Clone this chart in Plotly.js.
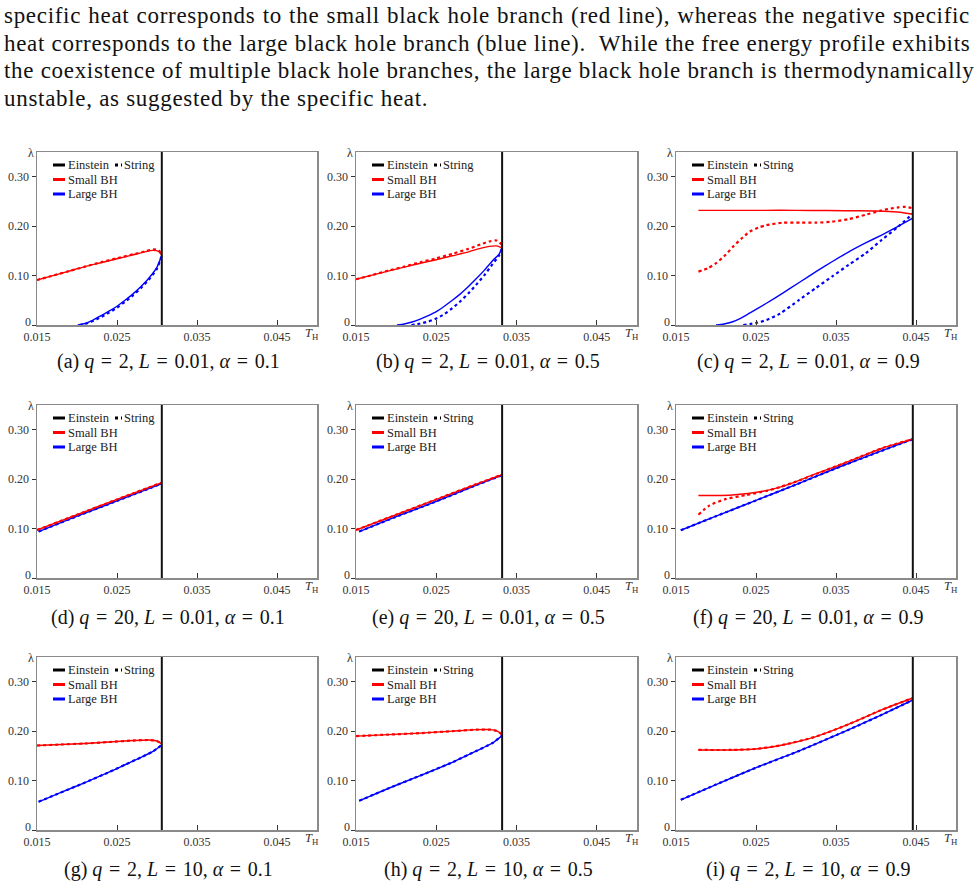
<!DOCTYPE html>
<html><head><meta charset="utf-8">
<script src="https://cdn.plot.ly/plotly-3.0.1.min.js"></script>
<style>
html,body{margin:0;padding:0;background:#fff;}
#wrap{position:relative;width:976px;height:886px;overflow:hidden;background:#fff;}
#chart{position:absolute;left:0;top:0;width:976px;height:886px;}
#para{position:absolute;left:4px;top:2px;width:966px;font-size:23px;line-height:27.5px;color:#111;letter-spacing:0.7px;z-index:5;}
#para div{white-space:nowrap;text-align:justify;text-align-last:justify;}
#para div.last{text-align-last:left;}
</style></head>
<body>
<div id="wrap">
<div id="chart"></div>
<div id="para" style="font-family:'Liberation Serif','Times New Roman','DejaVu Serif',serif;">
<div>specific heat corresponds to the small black hole branch (red line), whereas the negative specific</div>
<div>heat corresponds to the large black hole branch (blue line). &nbsp;While the free energy profile exhibits</div>
<div>the coexistence of multiple black hole branches, the large black hole branch is thermodynamically</div>
<div class="last">unstable, as suggested by the specific heat.</div>
</div>
</div>
<script>
// ---------- axes / labels ----------
const tickX = [0.015, 0.025, 0.035, 0.045];
const tickXText = ['0.015', '0.025', '0.035', '0.045'];
const tickY = [0, 0.1, 0.2, 0.3];
const tickYText = ['', '0.10', '0.20', '0.30'];
const zeroLabel = '0';
const xRange = [0.015, 0.05];
const yRange = [0, 0.35];
const panelTags = ['(a)', '(b)', '(c)', '(d)', '(e)', '(f)', '(g)', '(h)', '(i)'];
const qVals = ['2', '2', '2', '20', '20', '20', '2', '2', '2'];
const LVals = ['0.01', '0.01', '0.01', '0.01', '0.01', '0.01', '10', '10', '10'];
const alphaVals = ['0.1', '0.5', '0.9', '0.1', '0.5', '0.9', '0.1', '0.5', '0.9'];
const legendNames = ['Einstein', 'String', 'Small BH', 'Large BH'];
// maximal temperature (vertical line) for each panel
const tMax = [0.0306, 0.0332, 0.0446, 0.0306, 0.0332, 0.0446, 0.0306, 0.0332, 0.0446];
const lambdaSpan = [0, 0.35];

// ---------- panel (a) ----------
const aSmallEinT = [0.015, 0.017, 0.019, 0.021, 0.023, 0.025, 0.027, 0.0285, 0.0295, 0.0302, 0.0306];
const aSmallEinL = [0.091, 0.100, 0.109, 0.118, 0.126, 0.134, 0.142, 0.148, 0.151, 0.149, 0.141];
const aSmallStrT = [0.015, 0.017, 0.019, 0.021, 0.023, 0.025, 0.027, 0.0285, 0.0295, 0.0302, 0.0306];
const aSmallStrL = [0.091, 0.100, 0.109, 0.118, 0.127, 0.135, 0.143, 0.149, 0.153, 0.151, 0.142];
const aLargeEinT = [0.0201, 0.021, 0.022, 0.023, 0.024, 0.025, 0.026, 0.027, 0.028, 0.029, 0.030, 0.0306];
const aLargeEinL = [0, 0.003, 0.010, 0.019, 0.028, 0.038, 0.050, 0.063, 0.078, 0.095, 0.117, 0.141];
const aLargeStrT = [0.0203, 0.021, 0.022, 0.023, 0.024, 0.025, 0.026, 0.027, 0.028, 0.029, 0.030, 0.0306];
const aLargeStrL = [0, 0.002, 0.008, 0.016, 0.025, 0.035, 0.047, 0.060, 0.075, 0.092, 0.114, 0.141];

// ---------- panel (b) ----------
const bSmallEinT = [0.015, 0.017, 0.019, 0.021, 0.023, 0.025, 0.027, 0.029, 0.0305, 0.0316, 0.0325, 0.0332];
const bSmallEinL = [0.0925, 0.101, 0.109, 0.117, 0.125, 0.132, 0.140, 0.148, 0.155, 0.159, 0.160, 0.156];
const bSmallStrT = [0.015, 0.017, 0.019, 0.021, 0.023, 0.025, 0.027, 0.029, 0.0305, 0.0316, 0.0325, 0.0332];
const bSmallStrL = [0.0925, 0.101, 0.110, 0.118, 0.127, 0.135, 0.144, 0.154, 0.163, 0.169, 0.171, 0.162];
const bLargeEinT = [0.0201, 0.021, 0.022, 0.023, 0.024, 0.025, 0.026, 0.027, 0.028, 0.029, 0.030, 0.031, 0.032, 0.0328, 0.0332];
const bLargeEinL = [0, 0.002, 0.006, 0.012, 0.019, 0.027, 0.038, 0.050, 0.063, 0.078, 0.094, 0.111, 0.130, 0.143, 0.156];
const bLargeStrT = [0.0219, 0.023, 0.024, 0.025, 0.026, 0.027, 0.028, 0.029, 0.030, 0.031, 0.032, 0.0328, 0.0332];
const bLargeStrL = [0, 0.003, 0.007, 0.013, 0.022, 0.034, 0.048, 0.064, 0.082, 0.101, 0.123, 0.140, 0.156];

// ---------- panel (c) ----------
const cSmallEinT = [0.0178, 0.022, 0.026, 0.030, 0.034, 0.038, 0.041, 0.043, 0.0446];
const cSmallEinL = [0.232, 0.232, 0.232, 0.232, 0.2315, 0.231, 0.230, 0.228, 0.224];
const cSmallStrT = [0.0178, 0.0190, 0.0200, 0.0212, 0.0221, 0.0232, 0.0242, 0.0253, 0.0263, 0.0283, 0.0305, 0.0325, 0.0345, 0.0365, 0.0387, 0.0405, 0.0416, 0.0428, 0.0437, 0.0446];
const cSmallStrL = [0.108, 0.115, 0.125, 0.142, 0.158, 0.175, 0.189, 0.197, 0.202, 0.207, 0.207, 0.207, 0.209, 0.214, 0.223, 0.231, 0.235, 0.238, 0.239, 0.236];
const cLargeEinT = [0.0200, 0.021, 0.022, 0.023, 0.0242, 0.0262, 0.0283, 0.0304, 0.0325, 0.0345, 0.0366, 0.0387, 0.0407, 0.0427, 0.0446];
const cLargeEinL = [0, 0.002, 0.006, 0.013, 0.024, 0.043, 0.064, 0.086, 0.108, 0.128, 0.148, 0.166, 0.182, 0.199, 0.216];
const cLargeStrT = [0.0234, 0.025, 0.0263, 0.028, 0.0304, 0.0325, 0.0345, 0.0366, 0.0387, 0.0407, 0.0427, 0.0446];
const cLargeStrL = [0, 0.004, 0.010, 0.023, 0.051, 0.075, 0.098, 0.122, 0.145, 0.172, 0.198, 0.225];

// ---------- panel (d) ----------
const dSmallT = [0.015, 0.020, 0.025, 0.0306];
const dSmallL = [0.097, 0.128, 0.159, 0.193];
const dLargeT = [0.0152, 0.020, 0.025, 0.0306];
const dLargeL = [0.094, 0.125, 0.156, 0.191];

// ---------- panel (e) ----------
const eSmallT = [0.015, 0.020, 0.025, 0.030, 0.0332];
const eSmallL = [0.097, 0.128, 0.159, 0.190, 0.209];
const eLargeT = [0.0154, 0.020, 0.025, 0.030, 0.0332];
const eLargeL = [0.094, 0.124, 0.155, 0.188, 0.208];

// ---------- panel (f) ----------
const fLargeT = [0.0156, 0.020, 0.025, 0.030, 0.035, 0.040, 0.0446];
const fLargeL = [0.0966, 0.125, 0.157, 0.189, 0.222, 0.253, 0.281];
const fSmallEinT = [0.0178, 0.020, 0.022, 0.024, 0.026, 0.028, 0.030, 0.032, 0.035, 0.038, 0.041, 0.0446];
const fSmallEinL = [0.167, 0.167, 0.168, 0.171, 0.176, 0.184, 0.195, 0.208, 0.226, 0.245, 0.264, 0.281];
const fSmallStrT = [0.0178, 0.0192, 0.0213, 0.0238, 0.0263, 0.028, 0.030, 0.032, 0.035, 0.038, 0.041, 0.0446];
const fSmallStrL = [0.128, 0.147, 0.160, 0.168, 0.176, 0.184, 0.195, 0.207, 0.226, 0.245, 0.264, 0.281];

// ---------- panel (g) ----------
const gSmallT = [0.015, 0.018, 0.021, 0.024, 0.027, 0.029, 0.030, 0.0306];
const gSmallL = [0.171, 0.173, 0.175, 0.178, 0.181, 0.182, 0.180, 0.174];
const gLargeT = [0.0152, 0.018, 0.021, 0.024, 0.026, 0.028, 0.0295, 0.0306];
const gLargeL = [0.057, 0.076, 0.096, 0.117, 0.132, 0.147, 0.159, 0.172];

// ---------- panel (h) ----------
const hSmallT = [0.015, 0.019, 0.023, 0.027, 0.030, 0.0318, 0.0326, 0.0332];
const hSmallL = [0.190, 0.193, 0.196, 0.200, 0.203, 0.203, 0.200, 0.193];
const hLargeT = [0.0154, 0.019, 0.023, 0.027, 0.030, 0.032, 0.0332];
const hLargeL = [0.059, 0.084, 0.110, 0.137, 0.160, 0.176, 0.191];

// ---------- panel (i) ----------
const iSmallT = [0.0178, 0.022, 0.025, 0.0283, 0.0325, 0.0366, 0.0407, 0.0446];
const iSmallL = [0.162, 0.162, 0.164, 0.172, 0.189, 0.214, 0.243, 0.267];
const iLargeT = [0.0156, 0.020, 0.025, 0.0304, 0.0366, 0.0407, 0.0446];
const iLargeL = [0.061, 0.092, 0.126, 0.160, 0.203, 0.233, 0.263];

// curves per panel: [smallEin, smallStr, largeEin, largeStr] as [T, lambda]
const panelCurves = [
  [[aSmallEinT, aSmallEinL], [aSmallStrT, aSmallStrL], [aLargeEinT, aLargeEinL], [aLargeStrT, aLargeStrL]],
  [[bSmallEinT, bSmallEinL], [bSmallStrT, bSmallStrL], [bLargeEinT, bLargeEinL], [bLargeStrT, bLargeStrL]],
  [[cSmallEinT, cSmallEinL], [cSmallStrT, cSmallStrL], [cLargeEinT, cLargeEinL], [cLargeStrT, cLargeStrL]],
  [[dSmallT, dSmallL], [dSmallT, dSmallL], [dLargeT, dLargeL], [dLargeT, dLargeL]],
  [[eSmallT, eSmallL], [eSmallT, eSmallL], [eLargeT, eLargeL], [eLargeT, eLargeL]],
  [[fSmallEinT, fSmallEinL], [fSmallStrT, fSmallStrL], [fLargeT, fLargeL], [fLargeT, fLargeL]],
  [[gSmallT, gSmallL], [gSmallT, gSmallL], [gLargeT, gLargeL], [gLargeT, gLargeL]],
  [[hSmallT, hSmallL], [hSmallT, hSmallL], [hLargeT, hLargeL], [hLargeT, hLargeL]],
  [[iSmallT, iSmallL], [iSmallT, iSmallL], [iLargeT, iLargeL], [iLargeT, iLargeL]]
];

// ---------- layout geometry (pixels in a 976x886 page) ----------
const W = 976, H = 886;
const colPx = [[37, 317], [356, 637], [676, 956]];
const rowPx = [[152, 325], [405, 578], [657, 830]];
const captionX = [168, 488, 808];
const captionY = [362, 617, 869];

const RED = '#ff0000', BLUE = '#0000ff', BLACK = '#111111';
const serif = 'Liberation Serif, Times New Roman, serif';
const HS = '\u200A';

const traces = [];
const layout = {
  width: W, height: H,
  margin: {l: 0, r: 0, t: 0, b: 0},
  paper_bgcolor: '#ffffff', plot_bgcolor: '#ffffff',
  showlegend: false,
  annotations: [], shapes: []
};

for (let p = 0; p < 9; p++) {
  const r = Math.floor(p / 3), c = p % 3;
  const s = p === 0 ? '' : String(p + 1);
  const xa = 'x' + s, ya = 'y' + s;
  layout['xaxis' + s] = {
    domain: [colPx[c][0] / W, colPx[c][1] / W], anchor: ya,
    range: xRange, tickvals: tickX, ticktext: tickXText,
    ticks: 'inside', ticklen: 5, tickwidth: 1, tickcolor: '#333',
    showline: true, linecolor: '#8a8a8a', linewidth: 1.5, mirror: true,
    showgrid: false, zeroline: false, fixedrange: true,
    tickfont: {family: serif, size: 12, color: '#333'}
  };
  layout['yaxis' + s] = {
    domain: [1 - rowPx[r][1] / H, 1 - rowPx[r][0] / H], anchor: xa,
    range: yRange, tickvals: tickY, ticktext: tickYText,
    ticks: 'outside', ticklen: 4, tickwidth: 1, tickcolor: '#333',
    showline: true, linecolor: '#8a8a8a', linewidth: 1.5, mirror: true,
    showgrid: false, zeroline: false, fixedrange: true,
    tickfont: {family: serif, size: 12, color: '#333'}
  };
  const cv = panelCurves[p];
  // large BH (blue) first
  traces.push({x: cv[2][0], y: cv[2][1], xaxis: xa, yaxis: ya, mode: 'lines',
    line: {color: BLUE, width: 1.4, shape: 'spline', smoothing: 0.6}, hoverinfo: 'skip'});
  traces.push({x: cv[3][0], y: cv[3][1], xaxis: xa, yaxis: ya, mode: 'lines',
    line: {color: BLUE, width: 2.2, dash: 'dot', shape: 'spline', smoothing: 0.6}, hoverinfo: 'skip'});
  traces.push({x: cv[0][0], y: cv[0][1], xaxis: xa, yaxis: ya, mode: 'lines',
    line: {color: RED, width: 1.4, shape: 'spline', smoothing: 0.6}, hoverinfo: 'skip'});
  traces.push({x: cv[1][0], y: cv[1][1], xaxis: xa, yaxis: ya, mode: 'lines',
    line: {color: RED, width: 2.2, dash: 'dot', shape: 'spline', smoothing: 0.6}, hoverinfo: 'skip'});
  // vertical line at maximal temperature
  traces.push({x: [tMax[p], tMax[p]], y: lambdaSpan, xaxis: xa, yaxis: ya, mode: 'lines',
    line: {color: BLACK, width: 2}, hoverinfo: 'skip', cliponaxis: false});

  const xd = xa + ' domain', yd = ya + ' domain';
  // legend swatches
  const sw = (x0, x1, dy, color, dash) => ({type: 'line', xref: xd, yref: yd,
    xsizemode: 'pixel', ysizemode: 'pixel', xanchor: 0, yanchor: 1,
    x0: x0, x1: x1, y0: dy, y1: dy, line: {color: color, width: 3, dash: dash || 'solid'}});
  layout.shapes.push(sw(16, 28, -13, '#000'));
  layout.shapes.push(sw(78, 85, -13, '#000', 'dot'));
  layout.shapes.push(sw(16, 28, -27.5, RED));
  layout.shapes.push(sw(16, 28, -42, BLUE));
  const lt = (txt, xs, ys) => ({text: txt, xref: xd, yref: yd, x: 0, y: 1, xanchor: 'left', yanchor: 'middle',
    xshift: xs, yshift: ys, showarrow: false, font: {family: serif, size: 12.5, color: '#222'}});
  layout.annotations.push(lt(legendNames[0], 29, -13));
  layout.annotations.push(lt(legendNames[1], 85, -13));
  layout.annotations.push(lt(legendNames[2], 29, -27.5));
  layout.annotations.push(lt(legendNames[3], 29, -42));
  // zero label of the lambda axis (sits slightly above the frame corner)
  layout.annotations.push({text: zeroLabel, xref: xd, yref: ya, x: 0, y: tickY[0], xanchor: 'right', yanchor: 'middle',
    xshift: -4, yshift: 3, showarrow: false, font: {family: serif, size: 12, color: '#333'}});
  // axis labels
  layout.annotations.push({text: 'λ', xref: xd, yref: yd, x: 0, y: 1, xanchor: 'right', yanchor: 'middle',
    xshift: -1, yshift: -1, showarrow: false, font: {family: serif, size: 12, color: '#333'}});
  layout.annotations.push({text: '<i>T</i><sub>H</sub>', xref: xd, yref: yd, x: 1, y: 0, xanchor: 'center', yanchor: 'middle',
    xshift: -5, yshift: -9, showarrow: false, font: {family: serif, size: 12.5, color: '#333'}});
  // caption
  layout.annotations.push({
    text: panelTags[p] + ' <i>q</i>' + HS + ' = ' + HS + qVals[p] + ', <i>L</i>' + HS + ' = ' + HS + LVals[p] +
      ', <i>α</i>' + HS + ' = ' + HS + alphaVals[p],
    xref: 'paper', yref: 'paper', x: captionX[c] / W, y: 1 - captionY[r] / H,
    xanchor: 'center', yanchor: 'middle', showarrow: false,
    font: {family: serif, size: 20, color: '#111'}
  });
}

Plotly.newPlot('chart', traces, layout, {displayModeBar: false, staticPlot: true});
</script>
</body></html>
